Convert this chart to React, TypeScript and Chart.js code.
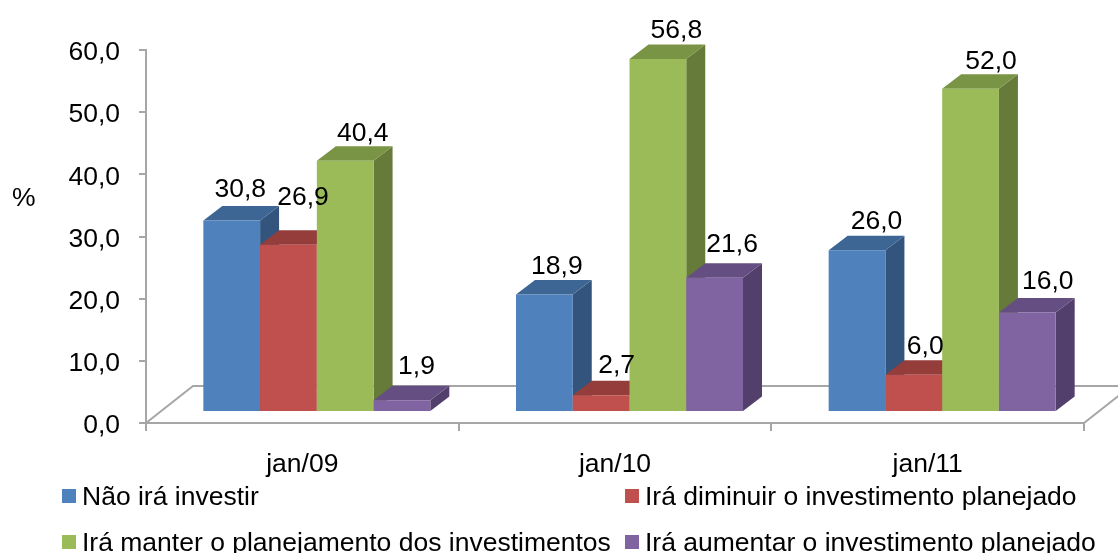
import React, { useEffect, useRef } from "react";
import { Chart, registerables } from "chart.js";

Chart.register(...registerables);

const categories = ["jan/09", "jan/10", "jan/11"];
const seriesNames = [
  "Não irá investir",
  "Irá diminuir o investimento planejado",
  "Irá manter o planejamento dos investimentos",
  "Irá aumentar o investimento planejado",
];
const naoInvestir = [30.8, 18.9, 26.0];
const diminuir = [26.9, 2.7, 6.0];
const manter = [40.4, 56.8, 52.0];
const aumentar = [1.9, 21.6, 16.0];
const seriesValues = [naoInvestir, diminuir, manter, aumentar];
const frontColors = ["#4f81bd", "#c0504d", "#9bbb59", "#8064a2"];
const topColors = ["#3d6695", "#953d3b", "#7a9446", "#654e81"];
const sideColors = ["#33557d", "#7e3331", "#667b3a", "#533f6b"];

// hand placement of the value labels, as in the original (series x category)
const labelShiftX = [
  [-6, -2, 5],
  [0, 1, -3],
  [3, 4, 6],
  [0, 3, 6],
];
const labelLift = [
  [9, 6, 7],
  [25, 8, 6],
  [5, 6, 5],
  [12, 11, 9],
];

const FONT = '"Liberation Sans", Arial, sans-serif';
const FONT_SIZE = 26.5;
const SHIFT_X = 14.5;
const SHIFT_Y = -11;
const DEPTH_X = 19;
const DEPTH_Y = -14.5;
const fmt = (v: number) => v.toFixed(1).replace(".", ",");

const poly = (ctx: CanvasRenderingContext2D, pts: number[][], fill: string) => {
  ctx.beginPath();
  pts.forEach(([x, y], i) => (i ? ctx.lineTo(x, y) : ctx.moveTo(x, y)));
  ctx.closePath();
  ctx.fillStyle = fill;
  ctx.fill();
};

const bars3d = {
  id: "bars3d",
  beforeDatasetsDraw(chart: any) {
    const { ctx, chartArea: a } = chart;
    ctx.save();
    ctx.strokeStyle = "#a6a6a6";
    ctx.lineWidth = 2;
    ctx.beginPath();
    ctx.moveTo(a.left, a.bottom);
    ctx.lineTo(a.left + 47, a.bottom - 37);
    ctx.lineTo(a.right + 40, a.bottom - 37);
    ctx.moveTo(a.right, a.bottom);
    ctx.lineTo(a.right + 47, a.bottom - 37);
    ctx.stroke();
    ctx.restore();

    // series are painted left to right so each bar hides its neighbour's side
    ctx.save();
    ctx.translate(SHIFT_X, SHIFT_Y);
    chart.data.datasets.forEach((_: any, i: number) => {
      const meta = chart.getDatasetMeta(i);
      meta.data.forEach((el: any) => {
        const { x, y, base, width } = el.getProps(["x", "y", "base", "width"], true);
        const l = x - width / 2;
        const r = x + width / 2;
        poly(ctx, [[r, y], [r + DEPTH_X, y + DEPTH_Y], [r + DEPTH_X, base + DEPTH_Y], [r, base]], sideColors[i]);
        poly(ctx, [[l, y], [l + DEPTH_X, y + DEPTH_Y], [r + DEPTH_X, y + DEPTH_Y], [r, y]], topColors[i]);
      });
      meta.controller.draw();
    });
    ctx.restore();
  },
  beforeDatasetDraw() {
    return false;
  },
  afterDatasetsDraw(chart: any) {
    const { ctx } = chart;
    ctx.save();
    ctx.fillStyle = "#000";
    ctx.font = `${FONT_SIZE}px ${FONT}`;
    ctx.textAlign = "center";
    ctx.textBaseline = "alphabetic";
    chart.data.datasets.forEach((ds: any, i: number) => {
      chart.getDatasetMeta(i).data.forEach((el: any, j: number) => {
        const { x, y } = el.getProps(["x", "y"], true);
        ctx.fillText(
          fmt(ds.data[j]),
          x + SHIFT_X + 14.5 + labelShiftX[i][j],
          y + SHIFT_Y + DEPTH_Y - labelLift[i][j]
        );
      });
    });
    ctx.textAlign = "left";
    ctx.fillText("%", 12, 206);

    // legend
    const cols = [62, 625];
    const rows = [489, 535];
    seriesNames.forEach((name, i) => {
      const sx = cols[i % 2];
      const sy = rows[Math.floor(i / 2)];
      ctx.fillStyle = frontColors[i];
      ctx.fillRect(sx, sy, 14, 14);
      ctx.fillStyle = "#000";
      ctx.fillText(name, sx + 20, sy + 16);
    });
    ctx.restore();
  },
};

export default function App() {
  const ref = useRef<HTMLCanvasElement>(null);
  useEffect(() => {
    const chart = new Chart(ref.current!, {
      type: "bar",
      data: {
        labels: categories,
        datasets: seriesNames.map((label, i) => ({
          label,
          data: seriesValues[i],
          backgroundColor: frontColors[i],
          categoryPercentage: 0.726,
          barPercentage: 1,
        })),
      },
      plugins: [bars3d],
      options: {
        animation: false,
        responsive: false,
        layout: { padding: { top: 50, right: 34, left: 0, bottom: 0 } },
        plugins: { legend: { display: false }, tooltip: { enabled: false } },
        scales: {
          x: {
            afterFit: (s: any) => {
              s.height = 130;
            },
            grid: { drawOnChartArea: false, color: "#a6a6a6", tickLength: 8, lineWidth: 2 },
            border: { color: "#a6a6a6", width: 2 },
            ticks: { color: "#000", font: { family: FONT, size: FONT_SIZE }, padding: 18, maxRotation: 0 },
          },
          y: {
            min: 0,
            max: 60,
            afterFit: (s: any) => {
              s.width = 146;
            },
            grid: { drawOnChartArea: false, color: "#a6a6a6", tickLength: 7, lineWidth: 2 },
            border: { color: "#a6a6a6", width: 2 },
            ticks: {
              stepSize: 10,
              color: "#000",
              font: { family: FONT, size: FONT_SIZE },
              padding: 19,
              labelOffset: 3,
              callback: (v: any) => fmt(Number(v)),
            },
          },
        },
      },
    });
    return () => chart.destroy();
  }, []);
  return (
    <div style={{ position: "fixed", left: 0, top: 0, width: 1118, height: 553, background: "#fff" }}>
      <canvas ref={ref} width={1118} height={553} style={{ display: "block" }} />
    </div>
  );
}
